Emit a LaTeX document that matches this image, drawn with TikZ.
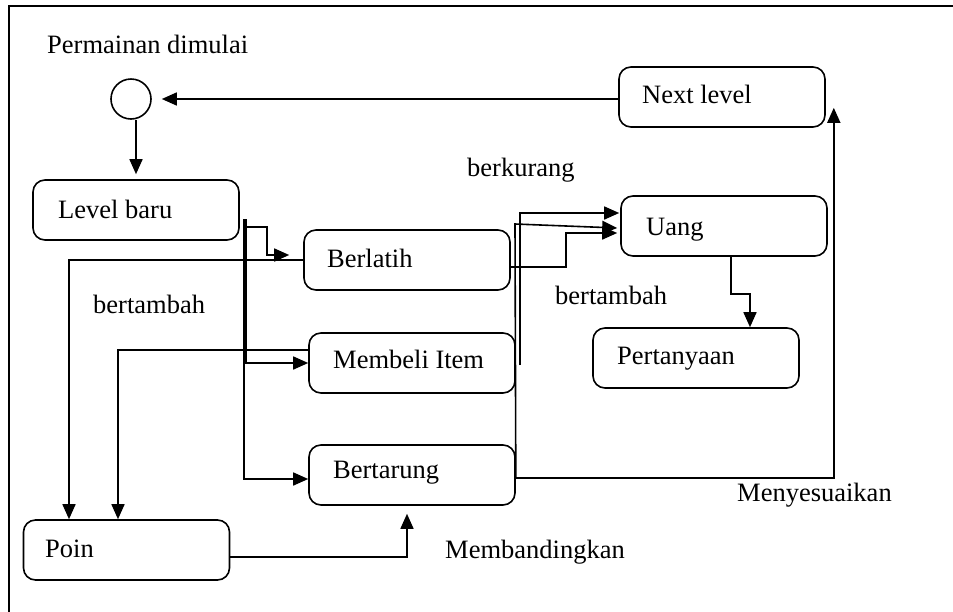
\documentclass[tikz,border=0pt]{standalone}
\usepackage{fontspec}
\setmainfont{Liberation Serif}
\usetikzlibrary{arrows.meta}
\begin{document}
\begin{tikzpicture}[x=1pt,y=-1pt,
  box/.style={draw, line width=1.6pt, rounded corners=12pt, minimum height=60pt,
    minimum width=206pt, inner sep=0pt},
  txt/.style={anchor=base west, inner sep=0pt, font=\fontsize{26.5}{30}\selectfont},
  lbl/.style={anchor=base west, inner sep=0pt, font=\fontsize{26.5}{30}\selectfont},
  conn/.style={line width=1.6pt},
  arr/.style={conn, -{Triangle[length=15pt,width=13pt]}}]
\useasboundingbox (0,0) rectangle (953,611);
\draw[line width=1.6pt] (9,615) -- (9,6) -- (960,6);

\node[draw, line width=1.6pt, circle, minimum size=40pt, inner sep=0pt] (start) at (131,99) {};
\node[box] (lb) at (136,210) {};
\node[box] (bl) at (407,260) {};
\node[box] (mb) at (412,363) {};
\node[box] (bert) at (412,475) {};
\node[box] (poin) at (126.5,550) {};
\node[box] (uang) at (724,226) {};
\node[box] (pt) at (696,358) {};
\node[box] (nl) at (722,97) {};

\node[txt] (lbt) at (58,218) {Level baru};
\node[txt] (blt) at (327,267) {Berlatih};
\node[txt] (mbt) at (333,368) {Membeli Item};
\node[txt] (bertt) at (333,478) {Bertarung};
\node[txt] (point) at (45,557) {Poin};
\node[txt] (uangt) at (646,235) {Uang};
\node[txt] (ptt) at (617,364) {Pertanyaan};
\node[txt] (nlt) at (642,103) {Next level};

\node[lbl] (t1) at (47,53) {Permainan dimulai};
\node[lbl] (t2) at (467,176) {berkurang};
\node[lbl] (t3) at (93,313) {bertambah};
\node[lbl] (t4) at (555,304) {bertambah};
\node[lbl] (t5) at (737,501) {Menyesuaikan};
\node[lbl] (t6) at (445,558) {Membandingkan};

% next level -> start
\draw[arr, shorten >=10pt] ([yshift=-2pt]nl.west) -- ([yshift=0pt]start.east);
% start -> level baru
\draw[arr, shorten >=5pt] ([xshift=5pt]start.south) -- ([xshift=5pt]start.south |- lb.north);
% bus from level baru
\coordinate (bt1) at (244,219);
\coordinate (bt2) at (246,219);
\draw[arr] (bt1) |- ([yshift=-4pt]bert.west);
\draw[arr] (bt2) |- (mb.west);
\draw[arr, shorten >=14pt] ([xshift=6pt,yshift=-17pt]lb.east) -- ++(21,0) |- ([yshift=5pt]bl.west);
% berlatih -> poin
\draw[arr] (bl.west) -| ([xshift=-57.5pt]poin.north);
% membeli -> poin
\draw[arr] ([yshift=13pt]mb.west) -| ([xshift=-8.5pt]poin.north);
% bertarung -> next level
\draw[arr] ([yshift=-3pt]bert.east) -| ([xshift=8pt,yshift=20pt]nl.south east);
% poin -> bertarung
\draw[arr] ([yshift=-7pt]poin.east) -| ([xshift=-5pt,yshift=-8pt]bert.south);
% to uang
\draw[arr] ([yshift=-7pt]bl.east) -- (566,267) |- ([xshift=-3pt,yshift=-7pt]uang.west);
\draw[arr] ([xshift=4pt,yshift=-2pt]mb.east) |- ([xshift=-1pt,yshift=13pt]uang.west);
\draw[arr] ([yshift=-3pt]bert.east) -- (515,224) -- ([xshift=-3pt,yshift=-2pt]uang.west);
% uang -> pertanyaan
\draw[arr] ([xshift=7pt]uang.south) -- ++(0,37) -| ([xshift=54pt]pt.north);
\end{tikzpicture}
\end{document}
